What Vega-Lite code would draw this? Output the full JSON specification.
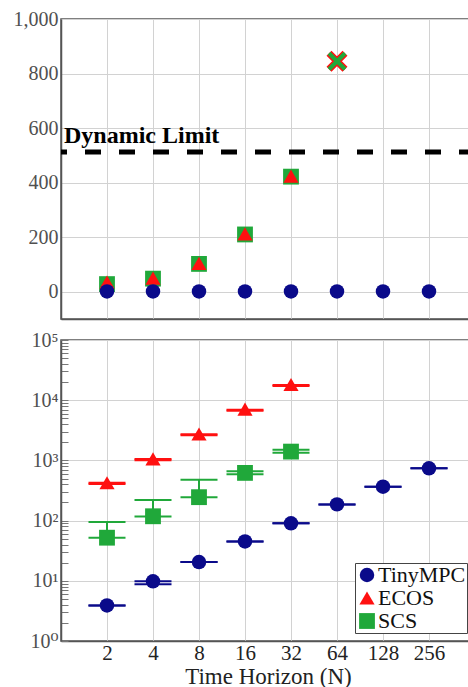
{
  "$schema": "https://vega.github.io/schema/vega-lite/v6.json",
  "background": "white",
  "padding": {"left": 12, "top": 8, "right": 0, "bottom": 0},
  "config": {
    "font": "'Liberation Serif', 'Times New Roman', 'DejaVu Serif', serif",
    "view": {"stroke": "#555", "strokeWidth": 1.5},
    "axis": {
      "labelFont": "'Liberation Serif', 'Times New Roman', 'DejaVu Serif', serif",
      "labelFontSize": 20,
      "labelColor": "#505050",
      "gridColor": "#d2d2d2",
      "gridWidth": 1,
      "domainColor": "#555",
      "domainWidth": 1.5,
      "ticks": false,
      "labelPadding": 3,
      "titleFont": "'Liberation Serif', 'Times New Roman', 'DejaVu Serif', serif",
      "titleFontWeight": "normal",
      "titleFontSize": 23,
      "titleColor": "#222"
    },
    "legend": {
      "labelFont": "'Liberation Serif', 'Times New Roman', 'DejaVu Serif', serif"
    },
    "text": {"font": "'Liberation Serif', 'Times New Roman', 'DejaVu Serif', serif"}
  },
  "datasets": {
    "limit": [{"name": "Dynamic Limit", "kB": 512}],
    "memory": [
      {"solver": "SCS", "N": 2, "kB": 28, "status": "ok"},
      {"solver": "SCS", "N": 4, "kB": 48, "status": "ok"},
      {"solver": "SCS", "N": 8, "kB": 102, "status": "ok"},
      {"solver": "SCS", "N": 16, "kB": 210, "status": "ok"},
      {"solver": "SCS", "N": 32, "kB": 422, "status": "ok"},
      {"solver": "SCS", "N": 64, "kB": 845, "status": "exceeded"},
      {"solver": "ECOS", "N": 2, "kB": 35, "status": "ok"},
      {"solver": "ECOS", "N": 4, "kB": 50, "status": "ok"},
      {"solver": "ECOS", "N": 8, "kB": 104, "status": "ok"},
      {"solver": "ECOS", "N": 16, "kB": 212, "status": "ok"},
      {"solver": "ECOS", "N": 32, "kB": 424, "status": "ok"},
      {"solver": "ECOS", "N": 64, "kB": 845, "status": "exceeded"},
      {"solver": "TinyMPC", "N": 2, "kB": 1, "status": "ok"},
      {"solver": "TinyMPC", "N": 4, "kB": 1, "status": "ok"},
      {"solver": "TinyMPC", "N": 8, "kB": 1, "status": "ok"},
      {"solver": "TinyMPC", "N": 16, "kB": 1, "status": "ok"},
      {"solver": "TinyMPC", "N": 32, "kB": 1, "status": "ok"},
      {"solver": "TinyMPC", "N": 64, "kB": 1, "status": "ok"},
      {"solver": "TinyMPC", "N": 128, "kB": 1, "status": "ok"},
      {"solver": "TinyMPC", "N": 256, "kB": 1, "status": "ok"}
    ],
    "time": [
      {"solver": "SCS", "N": 2, "mean": 52, "lo": 52, "hi": 95},
      {"solver": "SCS", "N": 4, "mean": 118, "lo": 117, "hi": 220},
      {"solver": "SCS", "N": 8, "mean": 245, "lo": 245, "hi": 478},
      {"solver": "SCS", "N": 16, "mean": 620, "lo": 590, "hi": 660},
      {"solver": "SCS", "N": 32, "mean": 1400, "lo": 1340, "hi": 1500},
      {"solver": "ECOS", "N": 2, "mean": 425, "lo": 405, "hi": 425},
      {"solver": "ECOS", "N": 4, "mean": 1060, "lo": 1010, "hi": 1050},
      {"solver": "ECOS", "N": 8, "mean": 2750, "lo": 2620, "hi": 2720},
      {"solver": "ECOS", "N": 16, "mean": 7100, "lo": 6700, "hi": 6950},
      {"solver": "ECOS", "N": 32, "mean": 18200, "lo": 17200, "hi": 17900},
      {"solver": "TinyMPC", "N": 2, "mean": 3.9, "lo": 3.9, "hi": 3.9},
      {"solver": "TinyMPC", "N": 4, "mean": 9.8, "lo": 8.8, "hi": 9.8},
      {"solver": "TinyMPC", "N": 8, "mean": 20.5, "lo": 20.5, "hi": 20.5},
      {"solver": "TinyMPC", "N": 16, "mean": 45, "lo": 45, "hi": 45},
      {"solver": "TinyMPC", "N": 32, "mean": 90, "lo": 90, "hi": 90},
      {"solver": "TinyMPC", "N": 64, "mean": 186, "lo": 186, "hi": 186},
      {"solver": "TinyMPC", "N": 128, "mean": 366, "lo": 366, "hi": 366},
      {"solver": "TinyMPC", "N": 256, "mean": 740, "lo": 740, "hi": 740}
    ]
  },
  "spacing": 21,
  "bounds": "flush",
  "resolve": {"legend": {"color": "independent", "shape": "independent", "size": "independent"}},
  "vconcat": [
    {
      "width": 414,
      "height": 300,
      "layer": [
        {
          "data": {"name": "limit"},
          "mark": {"type": "rule", "color": "black", "strokeWidth": 5, "strokeDash": [16, 18]},
          "encoding": {
            "y": {"field": "kB", "type": "quantitative", "scale": {"domain": [-100, 1000], "nice": false, "zero": false},
              "axis": {"values": [0, 200, 400, 600, 800, 1000], "format": ",d", "title": null, "grid": true}}
          }
        },
        {
          "data": {"name": "limit"},
          "mark": {"type": "text", "align": "left", "baseline": "alphabetic", "dx": 3, "dy": -9, "fontWeight": "bold", "fontSize": 24, "color": "black"},
          "encoding": {
            "x": {"datum": 1, "type": "quantitative", "scale": {"type": "log", "base": 2, "domain": [1, 512], "nice": false}},
            "y": {"field": "kB", "type": "quantitative"},
            "text": {"field": "name"}
          }
        },
        {
          "data": {"name": "memory"},
          "transform": [{"filter": "datum.status === 'ok'"}],
          "mark": {"type": "point", "filled": true, "opacity": 1},
          "encoding": {
            "x": {"field": "N", "type": "quantitative", "scale": {"type": "log", "base": 2, "domain": [1, 512], "nice": false},
              "axis": {"values": [2, 4, 8, 16, 32, 64, 128, 256], "labels": false, "title": null, "grid": true}},
            "y": {"field": "kB", "type": "quantitative"},
            "color": {"field": "solver", "type": "nominal", "scale": {"domain": ["TinyMPC", "ECOS", "SCS"], "range": ["#0a0a8a", "#ff1010", "#20a83a"]}, "legend": null},
            "shape": {"field": "solver", "type": "nominal", "scale": {"domain": ["TinyMPC", "ECOS", "SCS"], "range": ["circle", "triangle-up", "square"]}, "legend": null},
            "size": {"field": "solver", "type": "nominal", "scale": {"domain": ["TinyMPC", "ECOS", "SCS"], "range": [210, 250, 300]}, "legend": null}
          }
        },
        {
          "data": {"name": "memory"},
          "transform": [{"filter": "datum.status === 'exceeded' && datum.solver === 'ECOS'"}],
          "mark": {"type": "point", "filled": false, "shape": "M-1,-1L1,1M1,-1L-1,1", "size": 256, "strokeWidth": 7, "opacity": 1},
          "encoding": {
            "x": {"field": "N", "type": "quantitative"},
            "y": {"field": "kB", "type": "quantitative"},
            "color": {"field": "solver", "type": "nominal", "legend": null}
          }
        },
        {
          "data": {"name": "memory"},
          "transform": [{"filter": "datum.status === 'exceeded' && datum.solver === 'SCS'"}],
          "mark": {"type": "point", "filled": false, "shape": "M-1,-1L1,1M1,-1L-1,1", "size": 256, "strokeWidth": 4, "opacity": 1},
          "encoding": {
            "x": {"field": "N", "type": "quantitative"},
            "y": {"field": "kB", "type": "quantitative"},
            "color": {"field": "solver", "type": "nominal", "legend": null}
          }
        }
      ]
    },
    {
      "width": 414,
      "height": 301,
      "data": {"name": "time"},
      "layer": [
        {
          "mark": {"type": "rule", "strokeWidth": 2},
          "encoding": {
            "x": {"field": "N", "type": "quantitative"},
            "y": {"field": "lo", "type": "quantitative"},
            "y2": {"field": "hi"},
            "color": {"field": "solver", "type": "nominal"}
          }
        },
        {
          "mark": {"type": "tick", "orient": "horizontal", "size": 37, "thickness": 2, "opacity": 1},
          "encoding": {
            "x": {"field": "N", "type": "quantitative"},
            "y": {"field": "lo", "type": "quantitative"},
            "color": {"field": "solver", "type": "nominal"}
          }
        },
        {
          "mark": {"type": "tick", "orient": "horizontal", "size": 37, "thickness": 2, "opacity": 1},
          "encoding": {
            "x": {"field": "N", "type": "quantitative"},
            "y": {"field": "hi", "type": "quantitative"},
            "color": {"field": "solver", "type": "nominal"}
          }
        },
        {
          "mark": {"type": "point", "filled": true, "opacity": 1},
          "encoding": {
            "x": {"field": "N", "type": "quantitative", "scale": {"type": "log", "base": 2, "domain": [1, 512], "nice": false},
              "axis": {"values": [2, 4, 8, 16, 32, 64, 128, 256], "title": "Time Horizon (N)", "grid": true, "labelFontSize": 21, "labelColor": "#222", "labelPadding": 1, "titlePadding": 2}},
            "y": {"field": "mean", "type": "quantitative", "scale": {"type": "log", "domain": [1, 100000], "nice": false},
              "axis": {
                "title": null,
                "values": [1, 2, 3, 4, 5, 6, 7, 8, 9, 10, 20, 30, 40, 50, 60, 70, 80, 90, 100, 200, 300, 400, 500, 600, 700, 800, 900, 1000, 2000, 3000, 4000, 5000, 6000, 7000, 8000, 9000, 10000, 20000, 30000, 40000, 50000, 60000, 70000, 80000, 90000, 100000],
                "labelExpr": "abs(log(datum.value)/LN10 - round(log(datum.value)/LN10)) < 0.001 ? '10' + ['⁰','¹','²','³','⁴','⁵'][round(log(datum.value)/LN10)] : ''",
                "labelOverlap": false,
                "ticks": true,
                "tickSize": -7,
                "tickColor": "#777",
                "tickWidth": 1,
                "labelPadding": 10,
                "grid": true,
                "gridOpacity": {"condition": {"test": "abs(log(datum.value)/LN10 - round(log(datum.value)/LN10)) < 0.001", "value": 1}, "value": 0}
              }},
            "color": {"field": "solver", "type": "nominal",
              "legend": {"orient": "bottom-right", "offset": 8, "title": null, "strokeColor": "#444", "fillColor": "white", "padding": 1, "labelFontSize": 22, "labelColor": "#111", "rowPadding": 1, "labelOffset": 0, "symbolOffset": 0, "symbolStrokeWidth": 0}},
            "shape": {"field": "solver", "type": "nominal"},
            "size": {"field": "solver", "type": "nominal"}
          }
        }
      ]
    }
  ]
}
